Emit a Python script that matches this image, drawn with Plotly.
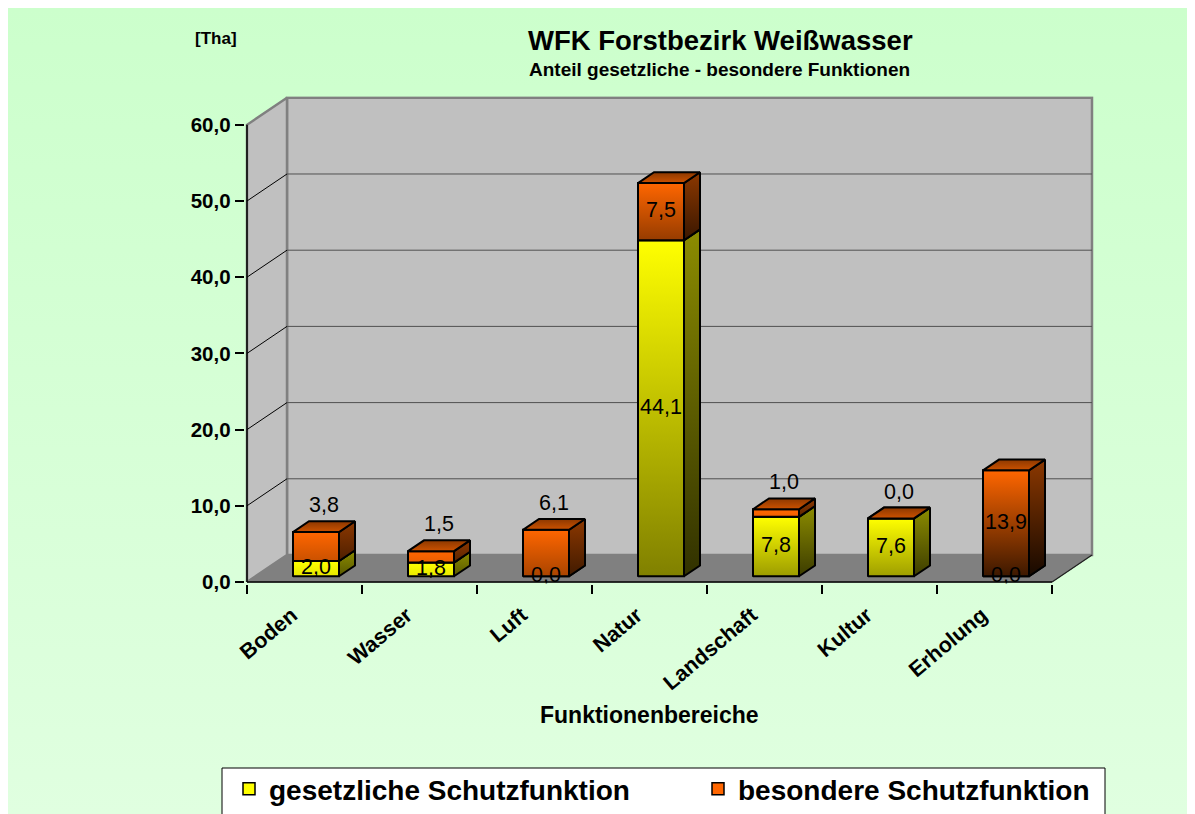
import plotly.graph_objects as go

# ---------------- data ----------------
categories = ["Boden", "Wasser", "Luft", "Natur", "Landschaft", "Kultur", "Erholung"]
gesetzlich = [2.0, 1.8, 0.0, 44.1, 7.8, 7.6, 0.0]
besonders = [3.8, 1.5, 6.1, 7.5, 1.0, 0.0, 13.9]
series_names = ["gesetzliche Schutzfunktion", "besondere Schutzfunktion"]
y_ticks = [0, 10, 20, 30, 40, 50, 60]

# ---------------- geometry / style ----------------
W, H = 1187, 806
PXX, PXY = 115.0, 7.62          # px per category / per value unit
X0PX, Y0PX = 239.0, 574.0       # figure px of front origin (x=-0.5, y=0)
N = len(categories)
YMAX = 60
DX, DY = 40 / PXX, 27 / PXY     # wall depth in data units
PADX, PADY = 0.02, 0.2
BW = 0.4                        # bar width
OX, OY = 0.1, 0.75              # bar front-face offset (depth)
BDX, BDY = 0.4 * DX, 0.4 * DY   # bar depth
LABEL_SHIFT = -0.11             # rotated category labels sit slightly left of centre
FONT = "Arial, Liberation Sans, sans-serif"

xr = [-0.5 - PADX, N - 0.5 + DX + PADX]
yr = [-PADY, YMAX + DY + PADY]
dom_x = [(X0PX - PADX * PXX) / W, (X0PX + (N + DX + PADX) * PXX) / W]
dom_y = [1 - (Y0PX + PADY * PXY) / H, 1 - (Y0PX - (YMAX + DY + PADY) * PXY) / H]

YEL = (255, 255, 0)
ORA = (255, 102, 0)


def rgb(c, f=1.0):
    return "rgb(%d,%d,%d)" % tuple(max(0, min(255, round(v * f))) for v in c)


fig = go.Figure()

# ---------- background gradient (full paper) ----------
fig.add_trace(go.Scatter(
    x=[0, 1, 1, 0, 0], y=[0, 0, 1, 1, 0], mode="lines", fill="toself",
    line=dict(width=0), fillgradient=dict(type="vertical", colorscale=[[0, "#e0ffe0"], [1, "#ccffcc"]]),
    hoverinfo="skip", showlegend=False, xaxis="x", yaxis="y"))


def poly(xs, ys, fillcolor=None, grad=None, lc="black", lw=2.0, ax=("x2", "y2")):
    kw = dict(x=list(xs) + [xs[0]], y=list(ys) + [ys[0]], mode="lines", fill="toself",
              line=dict(color=lc, width=lw), hoverinfo="skip", showlegend=False,
              xaxis=ax[0], yaxis=ax[1])
    if grad is not None:
        kw["fillgradient"] = dict(type="vertical", colorscale=grad)
    else:
        kw["fillcolor"] = fillcolor
    fig.add_trace(go.Scatter(**kw))


def line(xs, ys, color, width, ax=("x2", "y2")):
    fig.add_trace(go.Scatter(x=xs, y=ys, mode="lines", line=dict(color=color, width=width),
                             hoverinfo="skip", showlegend=False, xaxis=ax[0], yaxis=ax[1]))


L, R = -0.5, N - 0.5
# ---------- walls ----------
poly([L + DX, R + DX, R + DX, L + DX], [DY, DY, YMAX + DY, YMAX + DY], "#c0c0c0", lc="#808080", lw=2.5)
poly([L, L + DX, L + DX, L], [0, DY, YMAX + DY, YMAX], "#c0c0c0", lc="#808080", lw=2.5)
poly([L, R, R + DX, L + DX], [0, 0, DY, DY], "#808080", lc="#808080", lw=1)
for v in y_ticks[1:-1]:
    line([L + DX, R + DX], [v + DY, v + DY], "#505050", 1)
    line([L, L + DX], [v, v + DY], "black", 1)
line([R, R + DX], [0, DY], "#202020", 1.2)
line([L, L], [0, YMAX], "black", 1.5)
line([L, R], [0, 0], "black", 1.5)

# ---------- bars (front faces via Bar, overlaid with shaded 3D faces) ----------
ax3 = ("x3", "y3")
xs_front = [i + OX for i in range(N)]
fig.add_trace(go.Bar(x=xs_front, y=gesetzlich, base=[OY] * N, width=BW, name=series_names[0],
                     marker=dict(color=rgb(YEL), line=dict(color="black", width=1.5)),
                     xaxis="x3", yaxis="y3", hoverinfo="skip"))
fig.add_trace(go.Bar(x=xs_front, y=besonders, base=[OY + g for g in gesetzlich], width=BW,
                     name=series_names[1],
                     marker=dict(color=rgb(ORA), line=dict(color="black", width=1.5)),
                     xaxis="x3", yaxis="y3", hoverinfo="skip"))

lab_x, lab_y, lab_t = [], [], []
for i in range(N):
    x0 = i + OX - BW / 2
    x1 = i + OX + BW / 2
    base = OY
    for s, (vals, col, kmin, k) in enumerate([(gesetzlich, YEL, 0.5, 0.05), (besonders, ORA, 0.2, 0.055)]):
        h = vals[i]
        top = base + h
        fb = max(kmin, 1 - k * h)
        if h > 0:
            poly([x0, x1, x1, x0], [base, base, top, top],
                 grad=[[0, rgb(col, fb)], [1, rgb(col)]], ax=ax3)
            poly([x1, x1 + BDX, x1 + BDX, x1], [base, base + BDY, top + BDY, top],
                 grad=[[0, rgb(col, 0.55 * fb * 0.7)], [1, rgb(col, 0.55)]], ax=ax3)
        poly([x0, x1, x1 + BDX, x0 + BDX], [top, top, top + BDY, top + BDY],
             grad=[[0, rgb(col, 0.8)], [1, rgb(col, 0.55)]], ax=ax3)
        # label
        if s == 0 or h >= 7:
            lab_x.append(i + OX)
            lab_y.append(base + h / 2)
        else:
            lab_x.append(i + OX + BDX / 2)
            lab_y.append(top + 3.3)
        lab_t.append(("%.1f" % h).replace(".", ","))
        base = top

fig.add_trace(go.Scatter(x=lab_x, y=lab_y, text=lab_t, mode="text",
                         textfont=dict(family=FONT, size=21.5, color="black"),
                         hoverinfo="skip", showlegend=False, xaxis="x3", yaxis="y3"))

# ---------- layout ----------
hidden = dict(visible=False, showgrid=False, zeroline=False, fixedrange=True)
fig.update_layout(
    width=W, height=H,
    margin=dict(l=0, r=0, t=0, b=0, autoexpand=False),
    paper_bgcolor="#ddffdd", plot_bgcolor="rgba(0,0,0,0)",
    separators=",.",
    font=dict(family=FONT, color="black"),
    barmode="overlay",
    xaxis=dict(domain=[0, 1], range=[0, 1], **hidden),
    yaxis=dict(domain=[0, 1], range=[0, 1], **hidden),
    xaxis2=dict(domain=dom_x, range=xr, anchor="y2", showgrid=False, zeroline=False, showline=False,
                tickmode="array", tickvals=[i + LABEL_SHIFT for i in range(N)], ticktext=categories,
                ticks="", tickangle=-40, ticklabelstandoff=14,
                tickfont=dict(family=FONT, size=21.5, weight="bold"),
                minor=dict(tickmode="array", tickvals=[i - 0.5 for i in range(N + 1)],
                           ticks="outside", ticklen=9, tickcolor="black", tickwidth=1.5, showgrid=False),
                fixedrange=True, automargin=False),
    yaxis2=dict(domain=dom_y, range=yr, anchor="x2", showgrid=False, zeroline=False, showline=False,
                tickmode="array", tickvals=y_ticks, tickformat=".1f", ticks="outside", ticklen=9,
                tickcolor="black", tickwidth=1.5,
                tickfont=dict(family=FONT, size=20.5, weight="bold"), fixedrange=True, automargin=False),
    xaxis3=dict(overlaying="x2", matches="x2", range=xr, visible=False, fixedrange=True),
    yaxis3=dict(overlaying="y2", matches="y2", range=yr, visible=False, fixedrange=True),
    legend=dict(orientation="h", xref="container", yref="container",
                x=221 / W, xanchor="left", y=1 - 756 / H, yanchor="top",
                bgcolor="rgba(0,0,0,0)", borderwidth=0,
                font=dict(family=FONT, size=28, weight="bold"), entrywidth=424,
                traceorder="normal"),
    shapes=[dict(type="rect", xref="paper", yref="paper", x0=214 / W, x1=1097 / W,
                 y0=1 - 812 / H, y1=1 - 760 / H, fillcolor="white",
                 line=dict(color="black", width=1), layer="above")],
    annotations=[
        dict(text="<b>WFK Forstbezirk Weißwasser</b>", x=712 / W, y=1 - 32 / H, xref="paper", yref="paper",
             showarrow=False, font=dict(size=27.5), xanchor="center", yanchor="middle"),
        dict(text="<b>Anteil gesetzliche - besondere Funktionen</b>", x=711 / W, y=1 - 62 / H,
             xref="paper", yref="paper", showarrow=False, font=dict(size=19), xanchor="center",
             yanchor="middle"),
        dict(text="<b>[Tha]</b>", x=208 / W, y=1 - 31 / H, xref="paper", yref="paper", showarrow=False,
             font=dict(size=17), xanchor="center", yanchor="middle"),
        dict(text="<b>Funktionenbereiche</b>", x=641 / W, y=1 - 707 / H, xref="paper", yref="paper",
             showarrow=False, font=dict(size=23), xanchor="center", yanchor="middle"),
    ],
)

fig.write_html("out.html")
